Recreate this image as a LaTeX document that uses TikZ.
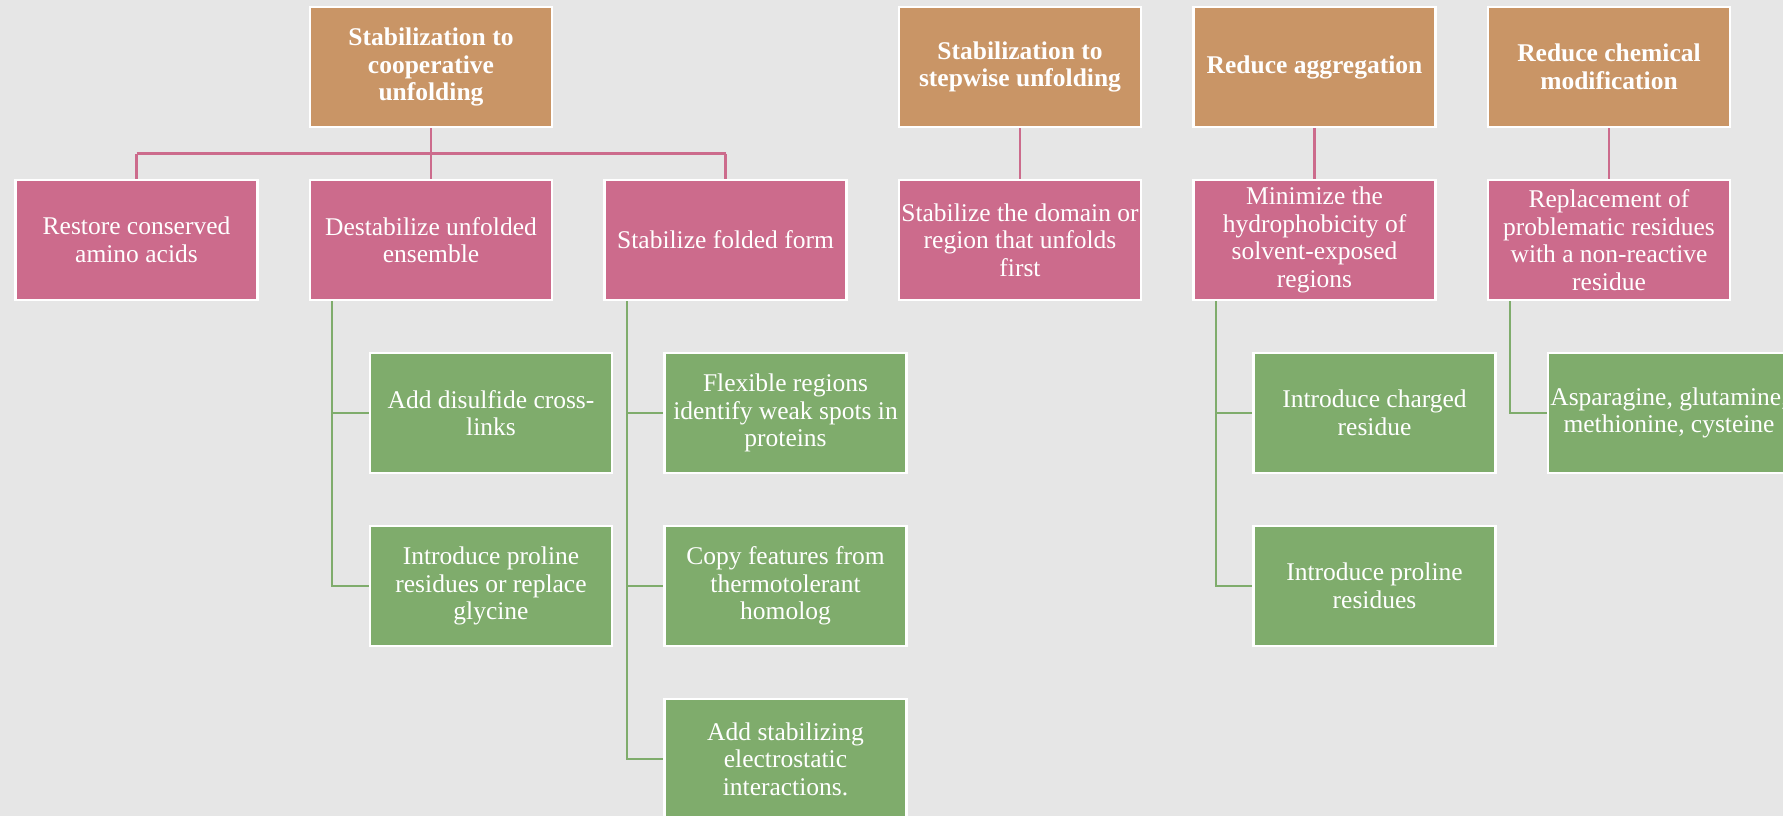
\documentclass[tikz,border=0pt]{standalone}
\usepackage{fontspec}
\setmainfont{Liberation Serif}
\usepackage{tikz}
\usetikzlibrary{
  positioning,
  calc
}
\definecolor{stHead}{HTML}{C99566}
\definecolor{stCat}{HTML}{CC6B8C}
\definecolor{stTip}{HTML}{7FAC6C}
\definecolor{stBack}{HTML}{E6E6E6}
\tikzset{
  stnode/.style={
    draw=white, line width=2.5pt, minimum width=242pt, minimum height=120pt,
    inner sep=2pt, align=center, text=white, font=\fontsize{25.5}{27.5}\selectfont
  },
  headbox/.style={stnode, fill=stHead, font=\fontsize{25.5}{27.5}\selectfont\bfseries},
  catbox/.style={stnode, fill=stCat},
  tipbox/.style={stnode, fill=stTip},
  catline/.style={line width=2.2pt, stCat},
  tipline/.style={line width=2.2pt, stTip}
}

\begin{document}
\begin{tikzpicture}[x=1pt, y=1pt]
  \useasboundingbox (0,0) rectangle (1783,-816);
  \clip (0,0) rectangle (1783,-816);
  \fill[stBack] (0,0) rectangle (1783,-816);
  \node[headbox] (t1) at (431,-67) {Stabilization to\\cooperative\\unfolding};
  \node[catbox, below=50.5pt of t1] (p2) {Destabilize unfolded\\ensemble};
  \node[catbox, left=50pt of p2] (p1) {Restore conserved\\amino acids};
  \node[catbox, right=50pt of p2] (p3) {Stabilize folded form};
  \node[catbox, right=50pt of p3] (p4) {Stabilize the domain or\\region that unfolds\\first};
  \node[catbox, right=50pt of p4] (p5) {Minimize the\\hydrophobicity of\\solvent-exposed\\regions};
  \node[catbox, right=50pt of p5] (p6) {Replacement of\\problematic residues\\with a non-reactive\\residue};
  \node[headbox, above=50.5pt of p4] (t2) {Stabilization to\\stepwise unfolding};
  \node[headbox, above=50.5pt of p5] (t3) {Reduce aggregation};
  \node[headbox, above=50.5pt of p6] (t4) {Reduce chemical\\modification};
  \node[tipbox, below=50.5pt of p2, xshift=60pt] (g1) {Add disulfide cross-\\links};
  \node[tipbox, below=50.5pt of g1] (g2) {Introduce proline\\residues or replace\\glycine};
  \node[tipbox, below=50.5pt of p3, xshift=60pt] (g3) {Flexible regions\\identify weak spots in\\proteins};
  \node[tipbox, below=50.5pt of g3] (g4) {Copy features from\\thermotolerant\\homolog};
  \node[tipbox, below=50.5pt of g4] (g5) {Add stabilizing\\electrostatic\\interactions.};
  \node[tipbox, below=50.5pt of p5, xshift=60pt] (g6) {Introduce charged\\residue};
  \node[tipbox, below=50.5pt of g6] (g7) {Introduce proline\\residues};
  \node[tipbox, below=50.5pt of p6, xshift=60pt] (g8) {Asparagine, glutamine,\\methionine, cysteine};
  \coordinate (hub) at ($(t1.south)!0.5!(p2.north)$);
  \draw[catline] (t1.south) -- (hub);
  \draw[catline] (hub -| p1) -- (hub -| p3);
  \foreach \n in {p1,p2,p3}{\draw[catline] (hub -| \n) -- (\n.north);}
  \draw[catline] (t2) -- (p4);
  \draw[catline] (t3) -- (p5);
  \draw[catline] (t4) -- (p6);
  \foreach \n in {g1,g2}{\draw[tipline] ([xshift=23.5pt]p2.south west) |- (\n.west);}
  \foreach \n in {g3,g4,g5}{\draw[tipline] ([xshift=23.5pt]p3.south west) |- (\n.west);}
  \foreach \n in {g6,g7}{\draw[tipline] ([xshift=23.5pt]p5.south west) |- (\n.west);}
  \draw[tipline] ([xshift=23.5pt]p6.south west) |- (g8.west);
\end{tikzpicture}
\end{document}
